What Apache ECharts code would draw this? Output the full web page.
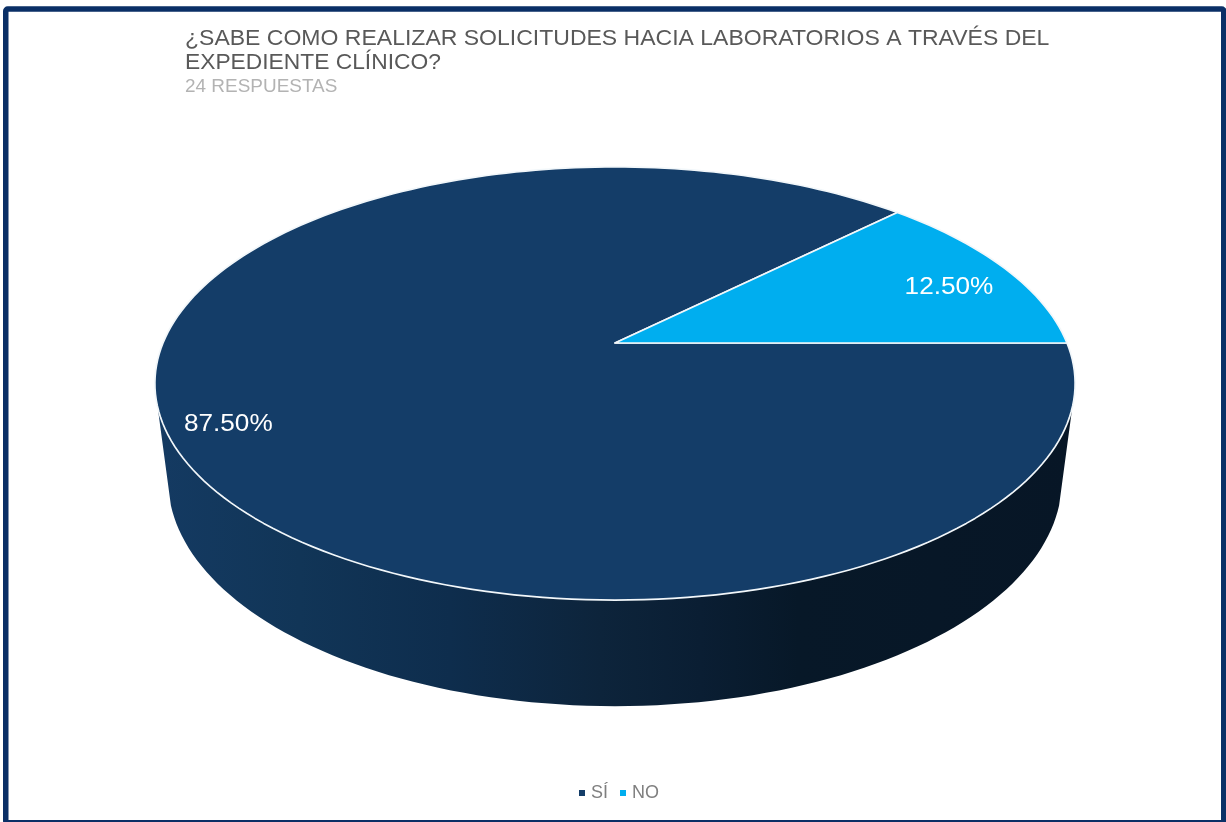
<!DOCTYPE html>
<html lang="es">
<head>
<meta charset="utf-8">
<title>Solicitudes hacia laboratorios</title>
<style>html,body{margin:0;padding:0;background:#fff}#chart{width:1226px;height:822px}</style>
<script src="https://cdn.jsdelivr.net/npm/echarts@6/dist/echarts.min.js"></script>
</head>
<body>
<div id="chart"></div>
<script>
// Survey answers, in percent of the 24 replies.
const categories = ['SÍ', 'NO'];
const shares = [87.5, 12.5];
const titleLines = ['¿SABE COMO REALIZAR SOLICITUDES HACIA LABORATORIOS A TRAVÉS DEL', 'EXPEDIENTE CLÍNICO?'];
const subtitle = '24 RESPUESTAS';

const sliceColors = ['#143D68', '#00AEEF'];

// Perspective model of the tilted disc: one set of terms for the upper face, one for the floor.
const disc = {
  persp: 0.187,
  face: { cx: 615, apexY: 343, kx: 452, ky: 209 },
  floor: { cx: 615, apexY: 438, kx: 439, ky: 218 },
  // The side wall is visible between these two rim angles (silhouette tangents).
  wallFrom: -17, wallTo: -163
};
// Where each percentage sits: radius along the slice bisector, then a small nudge.
const labelPlacement = [
  { r: 0.9, dx: 15, dy: 4 },
  { r: 0.8, dx: 18, dy: 5 }
];

function project(deg, r, plane) {
  const a = deg * Math.PI / 180;
  const u = r * Math.cos(a), v = r * Math.sin(a);
  const d = 1 + disc.persp * v;
  return [plane.cx + plane.kx * u / d, plane.apexY - plane.ky * v / d];
}

// Angles run clockwise from the 3 o'clock direction.
function arc(from, to, plane) {
  const pts = [];
  const n = Math.max(2, Math.ceil(Math.abs(to - from) / 1.5));
  for (let i = 0; i <= n; i++) pts.push(project(from + (to - from) * i / n, 1, plane));
  return pts;
}

const wallFill = {
  type: 'linear', x: 156, y: 0, x2: 1074, y2: 0, global: true,
  colorStops: [
    { offset: 0, color: '#143A62' },
    { offset: 0.157, color: '#113557' },
    { offset: 0.32, color: '#0E2D4D' },
    { offset: 0.484, color: '#0D243B' },
    { offset: 0.593, color: '#0A1E33' },
    { offset: 0.7, color: '#071828' },
    { offset: 1, color: '#071626' }
  ]
};

function renderSlice(params, api) {
  const start = api.value(0), share = api.value(1);
  const from = -start * 3.6, to = -(start + share) * 3.6;
  const children = [];

  // Side wall: the part of this slice's rim that faces the viewer, down to the floor rim.
  const wallA = Math.min(from, disc.wallFrom), wallB = Math.max(to, disc.wallTo);
  if (wallA > wallB) {
    children.push({
      type: 'polygon', silent: true,
      shape: { points: arc(wallA, wallB, disc.face).concat(arc(wallA, wallB, disc.floor).reverse()) },
      style: { fill: wallFill }
    });
  }

  // Upper face of the slice.
  children.push({
    type: 'polygon', z2: 5,
    shape: { points: [[disc.face.cx, disc.face.apexY]].concat(arc(from, to, disc.face)) },
    style: { fill: sliceColors[params.seriesIndex], stroke: '#F2F7FA', lineWidth: 1.7, lineJoin: 'round' }
  });

  // Percentage label, stretched to the wide letterforms of the slide.
  const place = labelPlacement[params.seriesIndex];
  const at = project((from + to) / 2, place.r, disc.face);
  children.push({
    type: 'text', z2: 10, silent: true,
    x: at[0] + place.dx, y: at[1] + place.dy, scaleX: 1.09,
    style: {
      text: share.toFixed(2) + '%', fill: '#FFFFFF',
      fontFamily: 'Liberation Sans', fontSize: 24,
      align: 'center', verticalAlign: 'middle'
    }
  });
  return { type: 'group', children };
}

let running = 0;
const series = categories.map((name, i) => {
  const start = running;
  running += shares[i];
  return {
    type: 'custom', name, coordinateSystem: 'none',
    itemStyle: { color: sliceColors[i] },
    renderItem: renderSlice,
    data: [{ name, value: [start, shares[i]] }],
    z: i === 0 ? 2 : 3
  };
});

const chart = echarts.init(document.getElementById('chart'), null, { renderer: 'canvas' });
chart.setOption({
  animation: false,
  backgroundColor: '#FFFFFF',
  legend: {
    data: categories, icon: 'rect', itemWidth: 6, itemHeight: 6, itemGap: 12,
    left: 574, top: 779, selectedMode: false,
    textStyle: { fontFamily: 'Liberation Sans', fontSize: 18, color: '#7F7F7F', padding: [3, 0, 0, 1] }
  },
  graphic: [
    {
      type: 'rect', silent: true, z: 0,
      shape: { x: 5.75, y: 9, width: 1218, height: 813.75, r: 2 },
      style: { fill: 'none', stroke: '#0A2F66', lineWidth: 5.5 }
    },
    {
      type: 'text', x: 185, y: 39, scaleX: 1.046, silent: true,
      style: { text: titleLines[0], fill: '#595959', fontFamily: 'Liberation Sans', fontSize: 22, verticalAlign: 'middle' }
    },
    {
      type: 'text', x: 185, y: 63, scaleX: 1.036, silent: true,
      style: { text: titleLines[1], fill: '#595959', fontFamily: 'Liberation Sans', fontSize: 22, verticalAlign: 'middle' }
    },
    {
      type: 'text', x: 185, y: 87, scaleX: 1.053, silent: true,
      style: { text: subtitle, fill: '#B3B3B3', fontFamily: 'Liberation Sans', fontSize: 18, verticalAlign: 'middle' }
    }
  ],
  series
});
</script>
</body>
</html>
